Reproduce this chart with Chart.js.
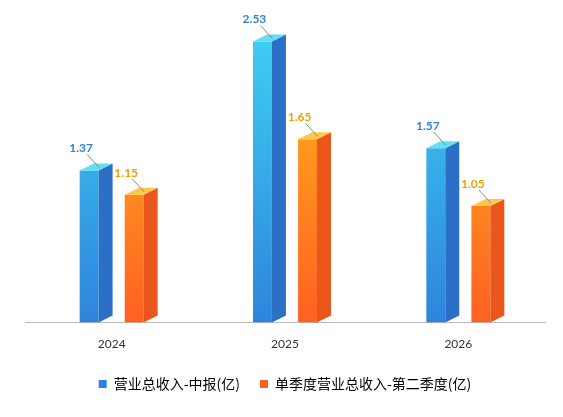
<!DOCTYPE html>
<html>
<head>
<meta charset="utf-8">
<script src="https://cdn.jsdelivr.net/npm/chart.js@4"></script>
<style>
  html, body { margin: 0; padding: 0; background: #fff; }
  #wrap { width: 563px; height: 417px; }
</style>
</head>
<body>
<div id="wrap"><canvas id="c"></canvas></div>
<script>
var categories = ["2024", "2025", "2026"];
var revenueHalf = [1.37, 2.53, 1.57];
var revenueQ2 = [1.15, 1.65, 1.05];
var seriesNames = ["营业总收入-中报(亿)", "单季度营业总收入-第二季度(亿)"];

var palettes = [
  { top: "#3fd6f4", bottom: "#2e84dc", side: "#2b6fc6", cap: "#62def6", text: "#2f86d6" },
  { top: "#ffc21c", bottom: "#ff6022", side: "#ea561b", cap: "#ffc84a", text: "#f5a000" }
];

var depth = 14, rise = 7;

var bar3d = {
  id: "bar3d",
  afterDatasetsDraw: function (chart) {
    var ctx = chart.ctx;
    chart.data.datasets.forEach(function (ds, di) {
      var p = palettes[di];
      chart.getDatasetMeta(di).data.forEach(function (bar, i) {
        var w = bar.width, l = bar.x - w / 2, r = bar.x + w / 2, t = bar.y, b = bar.base;
        ctx.fillStyle = p.side;
        ctx.beginPath();
        ctx.moveTo(r, t); ctx.lineTo(r + depth, t - rise);
        ctx.lineTo(r + depth, b - rise); ctx.lineTo(r, b);
        ctx.closePath(); ctx.fill();
        ctx.fillStyle = p.cap;
        ctx.beginPath();
        ctx.moveTo(l, t); ctx.lineTo(r, t);
        ctx.lineTo(r + depth, t - rise); ctx.lineTo(l + depth, t - rise);
        ctx.closePath(); ctx.fill();
        var cx = bar.x + 4;
        ctx.strokeStyle = "#888";
        ctx.lineWidth = 1;
        ctx.beginPath();
        ctx.moveTo(cx - 6, t - 16); ctx.lineTo(cx + 6, t - 3);
        ctx.stroke();
        ctx.fillStyle = p.text;
        ctx.font = "bold 12px Lato, 'Noto Sans', sans-serif";
        ctx.textAlign = "center";
        ctx.textBaseline = "bottom";
        ctx.fillText(ds.data[i].toFixed(2), bar.x - 8, t - 16);
      });
    });
  }
};

function grad(c, p) {
  var el = c.element;
  var area = c.chart.chartArea;
  if (!area) return p.bottom;
  var top = el && el.y !== undefined ? el.y : area.top;
  var g = c.chart.ctx.createLinearGradient(0, top, 0, area.bottom);
  g.addColorStop(0, p.top);
  g.addColorStop(1, p.bottom);
  return g;
}

new Chart(document.getElementById("c"), {
  type: "bar",
  data: {
    labels: categories,
    datasets: [
      { label: seriesNames[0], data: revenueHalf,
        backgroundColor: function (c) { return grad(c, palettes[0]); } },
      { label: seriesNames[1], data: revenueQ2,
        backgroundColor: function (c) { return grad(c, palettes[1]); } }
    ]
  },
  options: {
    responsive: true,
    maintainAspectRatio: false,
    animation: false,
    layout: { padding: { left: 25, right: 18, top: 6, bottom: 16 } },
    categoryPercentage: 0.52,
    barPercentage: 0.42,
    scales: {
      x: {
        grid: { display: false },
        border: { color: "#bbb" },
        ticks: { color: "#333", font: { size: 12, family: "Lato, 'Noto Sans', sans-serif" }, padding: 6 }
      },
      y: { display: false, min: 0, max: 2.85 }
    },
    plugins: {
      tooltip: { enabled: false },
      legend: {
        position: "bottom",
        labels: {
          boxWidth: 8, boxHeight: 8, padding: 20,
          color: "#222",
          font: { size: 14, family: "'Noto Sans CJK SC', sans-serif" },
          generateLabels: function (chart) {
            return chart.data.datasets.map(function (ds, i) {
              return { text: ds.label, fillStyle: palettes[i].bottom, strokeStyle: palettes[i].bottom, lineWidth: 0, datasetIndex: i };
            });
          }
        }
      }
    }
  },
  plugins: [bar3d]
});
</script>
</body>
</html>
